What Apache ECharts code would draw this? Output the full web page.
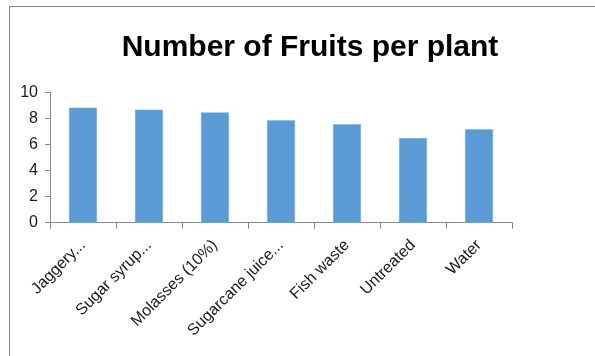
<!DOCTYPE html>
<html><head><meta charset="utf-8">
<script src="https://cdn.jsdelivr.net/npm/echarts@6/dist/echarts.min.js"></script>
<style>html,body{margin:0;padding:0;background:#fff}#c{width:595px;height:356px}</style>
</head><body><div id="c"></div>
<script>
const titleText = 'Number of Fruits per plant';
const categories = ['Jaggery...', 'Sugar syrup...', 'Molasses (10%)', 'Sugarcane juice...', 'Fish waste', 'Untreated', 'Water'];
const fruitsPerPlant = [8.82, 8.67, 8.46, 7.85, 7.55, 6.50, 7.16];
const yTicks = { min: 0, max: 10, interval: 2 };

const chart = echarts.init(document.getElementById('c'), null, { renderer: 'canvas' });
chart.setOption({
  animation: false,
  backgroundColor: '#fff',
  title: {
    text: titleText, left: 305, top: 28, textAlign: 'center',
    textStyle: { fontFamily: 'Liberation Sans', fontWeight: 'bold', fontSize: 30, color: '#000' }
  },
  graphic: [
    { type: 'line', shape: { x1: 9, y1: 6.5, x2: 595, y2: 6.5 }, style: { stroke: '#878787', lineWidth: 1 } },
    { type: 'line', shape: { x1: 9.5, y1: 6, x2: 9.5, y2: 356 }, style: { stroke: '#878787', lineWidth: 1 } }
  ],
  grid: { left: 50, right: 83, top: 92.3, bottom: 133.3, containLabel: false },
  xAxis: {
    type: 'category', data: categories, boundaryGap: true,
    axisLine: { lineStyle: { color: '#898989', width: 1 } },
    axisTick: { show: true, inside: false, length: 6, interval: 0, alignWithLabel: false, lineStyle: { color: '#898989', width: 1 } },
    axisLabel: { rotate: 45, interval: 0, margin: 20, color: '#1a1a1a', fontFamily: 'Liberation Sans', fontSize: 16 }
  },
  yAxis: {
    type: 'value', min: yTicks.min, max: yTicks.max, interval: yTicks.interval,
    axisLine: { show: true, lineStyle: { color: '#898989' } },
    axisTick: { show: true, length: 5, lineStyle: { color: '#898989' } },
    splitLine: { show: false },
    axisLabel: { margin: 12, color: '#1a1a1a', fontFamily: 'Liberation Sans', fontSize: 16 }
  },
  series: [{
    type: 'bar', data: fruitsPerPlant, barWidth: 28,
    itemStyle: { color: '#5B9BD5', borderColor: '#7fb1e0', borderWidth: 0.5 }
  }]
});
</script></body></html>
